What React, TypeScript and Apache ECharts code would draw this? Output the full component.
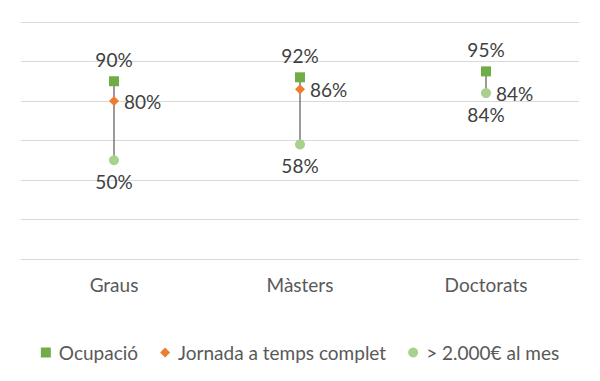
import React, { useEffect, useRef } from "react";
import * as echarts from "echarts";

const categories = ["Graus", "Màsters", "Doctorats"];
const ocupacio = [90, 92, 95];
const jornada = [80, 86, 84];
const sou = [50, 58, 84];
const yTicks = [0, 20, 40, 60, 80, 100, 120];

export default function App() {
  const ref = useRef<HTMLDivElement>(null);
  useEffect(() => {
    document.body.style.margin = "0";
    if (!ref.current) return;
    const chart = echarts.init(ref.current, null, { renderer: "svg" });
    const font = "Lato, 'Open Sans', sans-serif";
    const hiLo = categories.map((_, i) => {
      const vals = [ocupacio[i], jornada[i], sou[i]];
      return [i, Math.max(...vals), Math.min(...vals)];
    });
    const labelBase = {
      show: true,
      color: "#404040",
      fontSize: 19,
      fontFamily: font,
      formatter: (p: any) => p.value + "%",
    };
    chart.setOption({
      animation: false,
      backgroundColor: "#ffffff",
      grid: { left: 21, right: 21, top: 22, bottom: 122, containLabel: false },
      xAxis: {
        type: "category",
        data: categories,
        axisLine: { show: true, lineStyle: { color: "#D9D9D9" } },
        axisTick: { show: false },
        axisLabel: { color: "#595959", fontSize: 19, fontFamily: font, margin: 16 },
      },
      yAxis: {
        type: "value",
        min: yTicks[0],
        max: yTicks[yTicks.length - 1],
        interval: 20,
        axisLabel: { show: false },
        axisLine: { show: false },
        axisTick: { show: false },
        splitLine: { lineStyle: { color: "#D9D9D9", width: 1 } },
      },
      legend: {
        bottom: 14,
        left: "center",
        itemWidth: 10,
        itemHeight: 10,
        itemGap: 22,
        textStyle: { color: "#595959", fontSize: 19, fontFamily: font, padding: [0, 0, 0, 3] },
        data: [
          { name: "Ocupació", icon: "rect" },
          { name: "Jornada a temps complet", icon: "diamond" },
          { name: "> 2.000€ al mes", icon: "circle" },
        ],
      },
      series: [
        {
          type: "custom",
          name: "hilo",
          z: 1,
          silent: true,
          data: hiLo,
          encode: { x: 0, y: [1, 2] },
          renderItem: (params: any, api: any) => {
            const a = api.coord([api.value(0), api.value(1)]);
            const b = api.coord([api.value(0), api.value(2)]);
            return {
              type: "line",
              shape: { x1: a[0], y1: a[1], x2: b[0], y2: b[1] },
              style: { stroke: "#595959", lineWidth: 1.2 },
            };
          },
        },
        {
          type: "scatter",
          name: "Ocupació",
          z: 3,
          symbol: "rect",
          symbolSize: 10,
          itemStyle: { color: "#70AD47", opacity: 1 },
          data: ocupacio,
          label: { ...labelBase, position: "top", distance: 7 },
        },
        {
          type: "scatter",
          name: "Jornada a temps complet",
          z: 3,
          symbol: "diamond",
          symbolSize: 10,
          itemStyle: { color: "#ED7D31", opacity: 1 },
          data: jornada,
          label: { ...labelBase, position: "right", distance: 5 },
        },
        {
          type: "scatter",
          name: "> 2.000€ al mes",
          z: 3,
          symbol: "circle",
          symbolSize: 10,
          itemStyle: { color: "#A9D18E", opacity: 1 },
          data: sou,
          label: { ...labelBase, position: "bottom", distance: 7 },
        },
      ],
    });
    return () => chart.dispose();
  }, []);
  return <div ref={ref} style={{ width: 600, height: 381 }} />;
}
